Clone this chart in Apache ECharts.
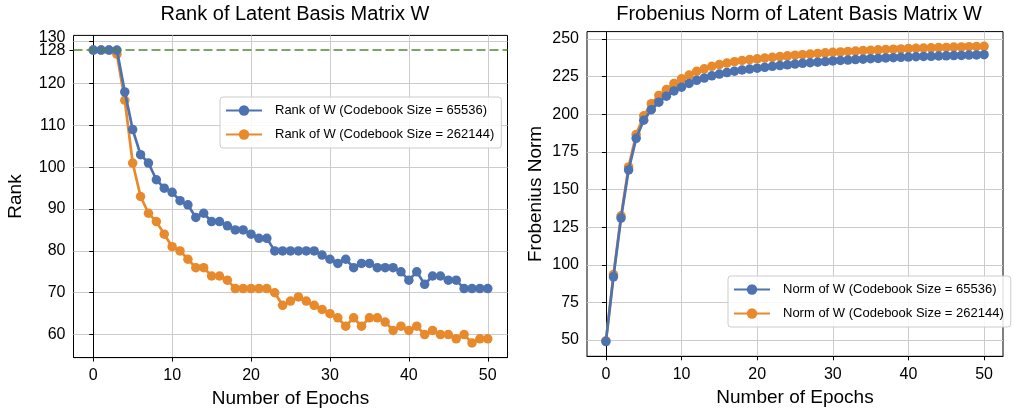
<!DOCTYPE html>
<html><head><meta charset="utf-8">
<script src="https://cdn.jsdelivr.net/npm/echarts@6/dist/echarts.min.js"></script>
<style>html,body{margin:0;padding:0;background:#fff}#c{width:1014px;height:408px}</style>
</head><body><div id="c"></div>
<script>
const epochs = [0,1,2,3,4,5,6,7,8,9,10,11,12,13,14,15,16,17,18,19,20,21,22,23,24,25,26,27,28,29,30,31,32,33,34,35,36,37,38,39,40,41,42,43,44,45,46,47,48,49,50];
const rank65536 = [128,128,128,128,118,109,103,101,97,95, 94,92,91,88,89,87,87,86,85,85, 84,83,83,80,80,80,80,80,80,79, 78,77,78,76,77,77,76,76,76,75, 73,75,72,74,74,73,73,71,71,71, 71];
const rank262144 = [128,128,128,127,116,101,93,89,87,84, 81,80,78,76,76,74,74,73,71,71, 71,71,71,70,67,68,69,68,67,66, 65,64,62,64,62,64,64,63,61,62, 61,62,60,61,60,60,59,60,58,59, 59];
const norm65536 = [49,92,131,163,184,196,203,208,212,215.5,218, 220.5,222.5,224,225.5,226.7,227.7,228.6,229.4,230,230.6, 231.2,231.8,232.3,232.8,233.3,233.8,234.2,234.6,235.0,235.4, 235.7,236.0,236.3,236.6,236.9,237.1,237.4,237.6,237.8,238.0, 238.2,238.4,238.5,238.7,238.8,239.0,239.1,239.3,239.4,239.6];
const norm262144 = [49.5,93.5,132.5,165,186.5,199,207,212.5,216.4,220.5,223.5, 226,228.5,230.2,231.8,233,234,234.9,235.7,236.3,236.8, 237.3,237.8,238.3,238.8,239.2,239.6,240.0,240.4,240.8,241.1, 241.4,241.7,242.0,242.3,242.5,242.8,243.0,243.2,243.4,243.6, 243.8,244.0,244.1,244.3,244.4,244.6,244.7,244.9,245.0,245.1];
const fullRank = 128;
const rankTicks = [60,70,80,90,100,110,120,130];
const rankLabels = [60,70,80,90,100,110,120];
const rankTopLabel = [130];
const rankFullLabel = [128];
const normTicks = [50,75,100,125,150,175,200,225,250];
const epochTicks = [0,10,20,30,40,50];
const titles = ['Rank of Latent Basis Matrix W', 'Frobenius Norm of Latent Basis Matrix W'];
const xName = 'Number of Epochs';
const yNames = ['Rank', 'Frobenius Norm'];
const names = ['Rank of W (Codebook Size = 65536)', 'Rank of W (Codebook Size = 262144)', 'Norm of W (Codebook Size = 65536)', 'Norm of W (Codebook Size = 262144)'];

const FONT = 'Liberation Sans, Arial, sans-serif';
const BLUE = '#4c72b0', ORANGE = '#e8892c';
const pair = (xs, ys) => xs.map((x, i) => [x, ys[i]]);

function xAxis(gi) {
  return {
    type: 'value', gridIndex: gi, min: -2.5, max: 52.5,
    name: xName, nameLocation: 'middle', nameGap: 32,
    nameTextStyle: {fontFamily: FONT, fontSize: 19, color: '#000'},
    axisLine: {show: true, lineStyle: {color: '#000', width: 1}},
    axisTick: {show: true, length: 4, inside: false, customValues: epochTicks, lineStyle: {color: '#000', width: 1}},
    axisLabel: {customValues: epochTicks, fontFamily: FONT, fontSize: 16, color: '#000', margin: 10, showMinLabel: true, showMaxLabel: true, hideOverlap: false},
    splitLine: {show: true, lineStyle: {color: '#cccccc', width: 1}}
  };
}
function yAxis(gi, min, max, ticks, labels, name, gap) {
  return {
    type: 'value', gridIndex: gi, min: min, max: max,
    name: name, nameLocation: 'middle', nameGap: gap, nameRotate: 90,
    nameTextStyle: {fontFamily: FONT, fontSize: 19, color: '#000'},
    axisLine: {show: true, lineStyle: {color: '#000', width: 1}},
    axisTick: {show: true, length: 4, inside: false, customValues: ticks, lineStyle: {color: '#000', width: 1}},
    axisLabel: {customValues: labels, fontFamily: FONT, fontSize: 16, color: '#000', margin: 8, showMinLabel: true, showMaxLabel: true, hideOverlap: false},
    splitLine: {show: true, lineStyle: {color: '#cccccc', width: 1}}
  };
}
// extra axes on the left plot carrying single labels (130 and 128) so both stay visible
function extraYAxis(gi, min, max, values, vAlign, lh, tick) {
  return {
    type: 'value', gridIndex: gi, min: min, max: max, position: 'left',
    axisLine: {show: false},
    axisTick: {show: tick, length: 4, inside: false, customValues: values, lineStyle: {color: '#000', width: 1}},
    axisLabel: {customValues: values, fontFamily: FONT, fontSize: 16, color: '#000', margin: 8,
      verticalAlign: vAlign, lineHeight: lh, showMinLabel: true, showMaxLabel: true},
    splitLine: {show: false}
  };
}
function series(name, gi, yi, ys, color, z, extra) {
  return Object.assign({
    name: name, type: 'line', xAxisIndex: gi, yAxisIndex: yi,
    data: pair(epochs, ys), symbol: 'circle', symbolSize: 9.5, showSymbol: true,
    lineStyle: {color: color, width: 2.7}, itemStyle: {color: color},
    z: z, animation: false, silent: true
  }, extra || {});
}
function legend(left, top, data) {
  return {
    data: data, orient: 'vertical', left: left, top: top,
    itemWidth: 36, itemHeight: 13, itemGap: 11, selectedMode: false,
    backgroundColor: 'rgba(255,255,255,0.85)', borderColor: '#cccccc', borderWidth: 1, borderRadius: 3,
    padding: [7, 7, 7, 5],
    textStyle: {fontFamily: FONT, fontSize: 13, color: '#000', padding: [0, 0, 0, 8]}
  };
}

const chart = echarts.init(document.getElementById('c'), null, {renderer: 'canvas'});
chart.setOption({
  backgroundColor: '#fff',
  animation: false,
  title: [
    {text: titles[0], left: 290, top: -1, textAlign: 'center', textStyle: {fontFamily: FONT, fontSize: 20, fontWeight: 'normal', color: '#000'}},
    {text: titles[1], left: 794, top: -1, textAlign: 'center', textStyle: {fontFamily: FONT, fontSize: 20, fontWeight: 'normal', color: '#000'}}
  ],
  grid: [
    {left: 73.5, top: 35.4, width: 434, height: 322.2, show: true, borderColor: '#000', borderWidth: 1, backgroundColor: 'transparent', containLabel: false, outerBoundsMode: 'none'},
    {left: 587, top: 31.6, width: 416, height: 324.7, show: true, borderColor: '#000', borderWidth: 1, backgroundColor: 'transparent', containLabel: false, outerBoundsMode: 'none'}
  ],
  xAxis: [xAxis(0), xAxis(1)],
  yAxis: [
    yAxis(0, 54.5, 131.5, rankTicks, rankLabels, yNames[0], 48),
    yAxis(1, 39.2, 254.9, normTicks, normTicks, yNames[1], 42),
    extraYAxis(0, 54.5, 131.5, rankTopLabel, 'bottom', 8, false),
    extraYAxis(0, 54.5, 131.5, rankFullLabel, 'top', 2, true)
  ],
  legend: [
    legend(220, 97, [names[0], names[1]]),
    legend(728, 276, [names[2], names[3]])
  ],
  series: [
    series(names[1], 0, 0, rank262144, ORANGE, 3),
    series(names[0], 0, 0, rank65536, BLUE, 4, {
      markLine: {silent: true, symbol: 'none', label: {show: false}, animation: false,
        lineStyle: {color: '#4f8a2f', type: [9, 4], width: 1.5},
        data: [{yAxis: fullRank}]}
    }),
    series(names[3], 1, 1, norm262144, ORANGE, 3),
    series(names[2], 1, 1, norm65536, BLUE, 4)
  ]
});
</script>
</body></html>
